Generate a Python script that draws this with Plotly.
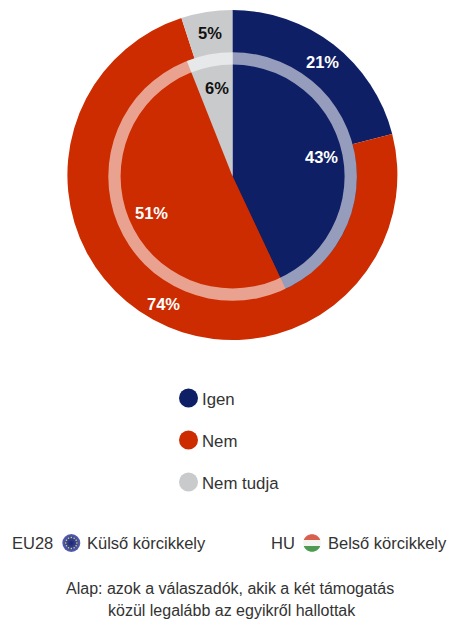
import numpy as np
import plotly.graph_objects as go

categories = ["Igen", "Nem", "Nem tudja"]
eu28_values = [21, 74, 5]   # outer ring
hu_values = [43, 51, 6]     # inner pie
colors = ["#0F1F66", "#CC2C00", "#C9CACC"]

W, H = 449, 619
CX, CY = 232.4, 175
CX2, CY2 = 232.6, 176.5     # inner pie sits a bit lower
R_OUT, R_IN, R_BAND = 165, 124.3, 112
FONT = "Liberation Sans"
TXT = "#333333"


def dom(cx, cy, r):
    # pie domain for a radius in pixels
    return dict(x=[(cx - r) / W, (cx + r) / W], y=[1 - (cy + r) / H, 1 - (cy - r) / H])


def pie(vals, cx, cy, r, cols, hole=0.0):
    return go.Pie(values=vals, domain=dom(cx, cy, r), hole=hole, sort=False, direction="clockwise",
                  rotation=0, textinfo="none", showlegend=False, hoverinfo="skip",
                  marker=dict(colors=cols, line=dict(width=0)))


fig = go.Figure()
fig.add_trace(pie(eu28_values, CX, CY, R_OUT, colors))
fig.add_trace(pie(hu_values, CX2, CY2, R_IN, colors))
# translucent white band on the rim of the inner pie
fig.add_trace(pie([1], CX2, CY2, R_IN, ["rgba(255,255,255,0.56)"], hole=R_BAND / R_IN))

# legend dots
leg_y = [398, 440, 482]
fig.add_trace(go.Scatter(x=[188.5] * 3, y=leg_y, mode="markers", showlegend=False, hoverinfo="skip",
                         marker=dict(size=19, color=colors, line=dict(width=0))))

# EU flag badge
fig.add_trace(go.Scatter(x=[71.3], y=[543], mode="markers", showlegend=False, hoverinfo="skip",
                         marker=dict(size=18, color="#5560B0", line=dict(width=0),
                                     gradient=dict(type="radial", color="#1A2575"))))
a = np.arange(12) * np.pi / 6
fig.add_trace(go.Scatter(x=71.3 + 5.6 * np.cos(a), y=543 + 5.6 * np.sin(a), mode="markers",
                         showlegend=False, hoverinfo="skip",
                         marker=dict(size=1.5, color="#E8D84A", line=dict(width=0))))


# HU flag badge, three stripes clipped to a circle
def band(cx, cy, r, y0, y1):
    t0, t1 = np.arcsin(y0 / r), np.arcsin(y1 / r)
    t = np.linspace(t0, t1, 16)
    xs = np.r_[cx + r * np.cos(t), cx - r * np.cos(t[::-1])]
    ys = np.r_[cy + r * np.sin(t), cy + r * np.sin(t[::-1])]
    return "M" + "L".join(f"{x:.2f},{y:.2f}" for x, y in zip(xs, ys)) + "Z"


for y0, y1, c in [(-8.8, -3, "#D8604F"), (-3, 3, "#F4F4F0"), (3, 8.8, "#4E9A50")]:
    fig.add_shape(type="path", path=band(312, 543, 8.8, y0, y1), fillcolor=c,
                  line=dict(width=0), xref="x", yref="y")

# value labels on the slices
lab_pos = [(322, 62), (321, 157), (151, 213), (163, 304), (210, 33), (217, 88)]
lab_txt = [f"{v}%" for v in (eu28_values[0], hu_values[0], hu_values[1], eu28_values[1], eu28_values[2], hu_values[2])]
lab_col = ["white", "white", "white", "white", "#111111", "#111111"]
for (x, y), t, c in zip(lab_pos, lab_txt, lab_col):
    fig.add_annotation(x=x, y=y, text=f"<b>{t}</b>", showarrow=False, xref="x", yref="y",
                       font=dict(family=FONT, size=16.5, color=c))

# legend labels and notes
for y, t in zip(leg_y, categories):
    fig.add_annotation(x=200, y=y + 1, text=t, showarrow=False, xanchor="left", xref="x", yref="y",
                       font=dict(family=FONT, size=16.8, color=TXT))

notes = [(10, 543, "EU28"), (85, 543, "Külső körcikkely"), (269, 543, "HU"), (326, 543, "Belső körcikkely")]
for x, y, t in notes:
    fig.add_annotation(x=x, y=y, text=t, showarrow=False, xanchor="left", xref="x", yref="y",
                       font=dict(family=FONT, size=16.5, color=TXT))

fig.add_annotation(x=229.5, y=588, text="Alap: azok a válaszadók, akik a két támogatás", showarrow=False,
                   xref="x", yref="y", font=dict(family=FONT, size=16, color=TXT))
fig.add_annotation(x=232, y=610, text="közül legalább az egyikről hallottak", showarrow=False,
                   xref="x", yref="y", font=dict(family=FONT, size=16, color=TXT))

fig.update_layout(width=W, height=H, margin=dict(l=0, r=0, t=0, b=0),
                  paper_bgcolor="white", plot_bgcolor="white",
                  xaxis=dict(range=[0, W], visible=False, fixedrange=True),
                  yaxis=dict(range=[H, 0], visible=False, fixedrange=True))

fig.write_html("out.html", config={"displayModeBar": False},
               post_script="document.body.style.margin='0';document.body.style.overflow='hidden';")
